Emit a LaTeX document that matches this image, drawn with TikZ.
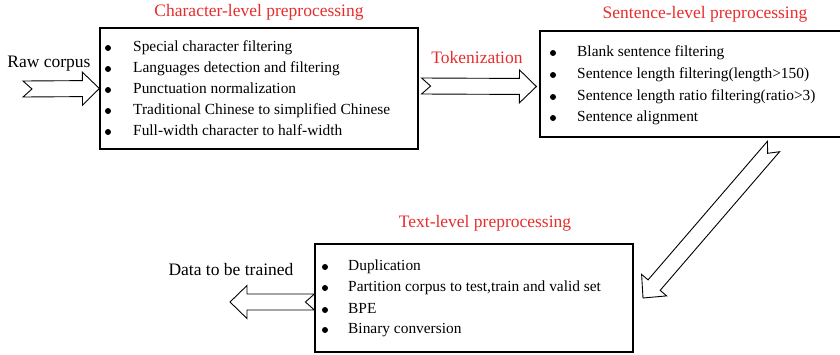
\documentclass[tikz,border=0pt]{standalone}
\usepackage{fontspec}
\setmainfont{Liberation Serif}
\usetikzlibrary{calc}
\definecolor{headred}{RGB}{232,44,44}
\tikzset{
  stagebox/.style={draw, line width=1.2pt, inner sep=0pt},
  heading/.style={text=headred, font=\fontsize{17.5}{20}\selectfont, inner sep=0pt},
  sidelabel/.style={font=\fontsize{17.5}{20}\selectfont, inner sep=0pt},
  item/.style={anchor=west, font=\fontsize{15.4}{18}\selectfont, inner sep=0pt,
    text height=11pt, text depth=4pt},
  dot/.style={fill=black},
  blockarr/.style={draw, line width=0.9pt, fill=white, line join=miter},
}
% hollow block arrow with a notched tail: #1 tail centre, #2 tip
\newcommand\blockarrow[2]{%
  \coordinate (hb) at ($(#2)!17pt!(#1)$);
  \draw[blockarr]
    ($(#1)!8pt!90:(#2)$) -- ($(hb)!8pt!90:(#2)$) -- ($(hb)!16.5pt!90:(#2)$)
    -- (#2)
    -- ($(hb)!16.5pt!-90:(#2)$) -- ($(hb)!8pt!-90:(#2)$) -- ($(#1)!8pt!-90:(#2)$)
    -- ($(#1)!9pt!(#2)$) -- cycle;}
\begin{document}
\begin{tikzpicture}[x=1pt, y=-1pt]
\useasboundingbox (0,0) rectangle (840,354);
\clip (0,0) rectangle (840,354);

% stage boxes
\node[stagebox, minimum width=318pt, minimum height=121pt] (char) at (259,88.5) {};
\node[stagebox, minimum width=302pt, minimum height=106pt] (sent) at (691,84) {};
\node[stagebox, minimum width=318pt, minimum height=108pt] (text) at (474,298) {};

% headings
\node[heading] (charhead) at (259,12) {Character-level preprocessing};
\node[heading] (senthead) at (705,14) {Sentence-level preprocessing};
\node[heading] (texthead) at (485,223) {Text-level preprocessing};
\node[heading] (tokhead) at (477,58) {Tokenization};
\node[sidelabel] (rawlabel) at (49,64) {Raw corpus};
\node[sidelabel] (outlabel) at (231,270) {Data to be trained};

% character-level steps
\foreach \y/\t [count=\i] in {48/Special character filtering,
    69/Languages detection and filtering,
    90/Punctuation normalization,
    111/Traditional Chinese to simplified Chinese,
    132/Full-width character to half-width}{
  \fill[dot] (108,\y) circle (3);
  \node[item] (c\i) at (133,\y) {\t};
}

% sentence-level steps
\foreach \y/\t [count=\i] in {53/Blank sentence filtering,
    75/Sentence length filtering(length>150),
    97/Sentence length ratio filtering(ratio>3),
    118/Sentence alignment}{
  \fill[dot] (553,\y) circle (3);
  \node[item] (s\i) at (577,\y) {\t};
}

% text-level steps
\foreach \y/\t [count=\i] in {267/Duplication,
    288/{Partition corpus to test,train and valid set},
    310/BPE,
    330/Binary conversion}{
  \fill[dot] (325,\y) circle (3);
  \node[item] (t\i) at (348,\y) {\t};
}

% flow arrows between the stages
\coordinate (rawtail) at (23,89);
\blockarrow{rawtail}{char.west}
\coordinate (toktail) at ($(char.east)+(3,-2.5)$);
\coordinate (toktip) at ($(sent.west)+(-3,2.5)$);
\blockarrow{toktail}{toktip}
\coordinate (diagtail) at (773.5,146.5);
\coordinate (diagtip) at (643,298);
\blockarrow{diagtail}{diagtip}
\coordinate (outtail) at ($(text.west)+(0,4)$);
\coordinate (outtip) at (230,302);
\blockarrow{outtail}{outtip}
\end{tikzpicture}
\end{document}
